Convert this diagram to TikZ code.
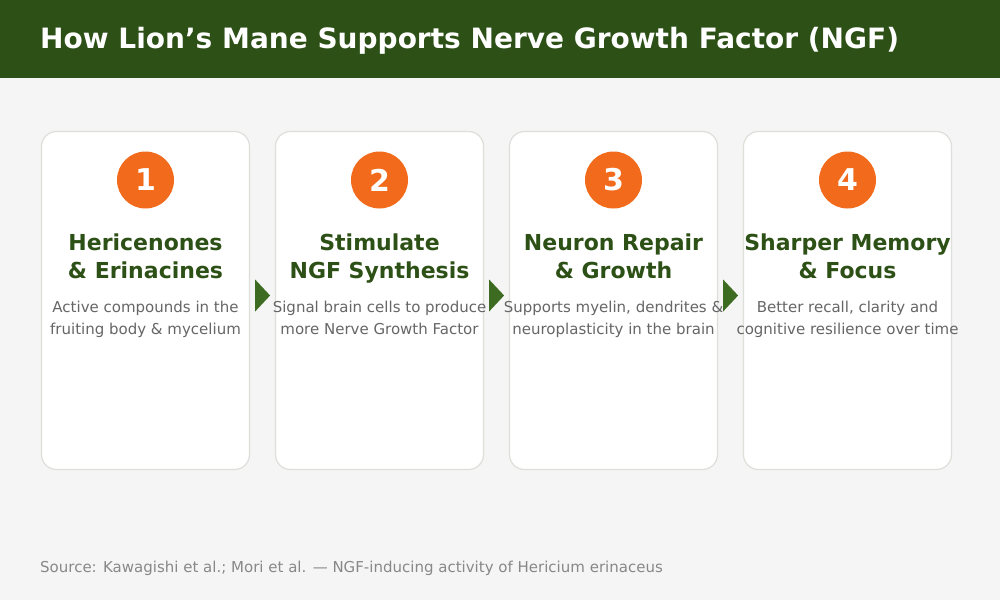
\documentclass[tikz,border=0pt]{standalone}
\usepackage{fontspec}
\setmainfont{DejaVu Sans}
\definecolor{hdr}{HTML}{2D5016}
\definecolor{bg}{HTML}{F4F5F4}
\definecolor{cardline}{HTML}{DDDFDA}
\definecolor{orng}{HTML}{F26A1B}
\definecolor{ttl}{HTML}{2D5016}
\definecolor{desc}{HTML}{666666}
\definecolor{foot}{HTML}{888888}
\definecolor{arr}{HTML}{3D6B21}
\tikzset{
  card/.style={draw=cardline, line width=1.2pt, fill=white, rounded corners=15pt, minimum width=208pt, minimum height=338pt, inner sep=0pt},
  badge/.style={circle, fill=orng, minimum size=57pt, inner sep=0pt, text=white, font=\fontsize{30}{36}\selectfont\bfseries},
  headline/.style={anchor=base, inner sep=0pt, text=ttl, font=\fontsize{22}{26}\selectfont\bfseries},
  descline/.style={anchor=base, inner sep=0pt, text=desc, font=\fontsize{15}{18}\selectfont},
  marker/.style={fill=arr},
}
\begin{document}
\begin{tikzpicture}[x=1pt,y=-1pt]
\useasboundingbox (0,0) rectangle (1000,600);
\fill[bg] (0,0) rectangle (1000,600);
\fill[hdr] (0,0) rectangle (1000,78);
\node[anchor=base west, inner sep=0pt, text=white, font=\fontsize{28}{33}\selectfont\bfseries] (title) at (40,48) {How Lion’s Mane Supports Nerve Growth Factor (NGF)};

\foreach \i/\ha/\hb/\da/\db in {
  1/{Hericenones}/{\& Erinacines}/{Active compounds in the}/{fruiting body \& mycelium},
  2/{Stimulate}/{NGF Synthesis}/{Signal brain cells to produce}/{more Nerve Growth Factor},
  3/{Neuron Repair}/{\& Growth}/{Supports myelin, dendrites \&}/{neuroplasticity in the brain},
  4/{Sharper Memory}/{\& Focus}/{Better recall, clarity and}/{cognitive resilience over time}}{
  \pgfmathsetmacro{\cx}{145.5+234*(\i-1)}
  \node[card] (card\i) at (\cx,300.5) {};
  \node[badge] (badge\i) at (\cx,180) {\i};
  \node[headline] (ha\i) at (\cx,250) {\ha};
  \node[headline] (hb\i) at (\cx,278) {\hb};
  \node[descline] (da\i) at (\cx,312) {\da};
  \node[descline] (db\i) at (\cx,334) {\db};
}
\foreach \i in {1,2,3}{
  \fill[marker] ([xshift=5pt,yshift=5pt]card\i.east) -- ++(0,-16) -- ++(15,16) -- ++(-15,16) -- cycle;
}
\node[anchor=base west, inner sep=0pt, text=foot, font=\fontsize{15}{18}\selectfont] (source) at (40,572) {Source: Kawagishi et al.; Mori et al. — NGF-inducing activity of Hericium erinaceus};
\end{tikzpicture}
\end{document}
